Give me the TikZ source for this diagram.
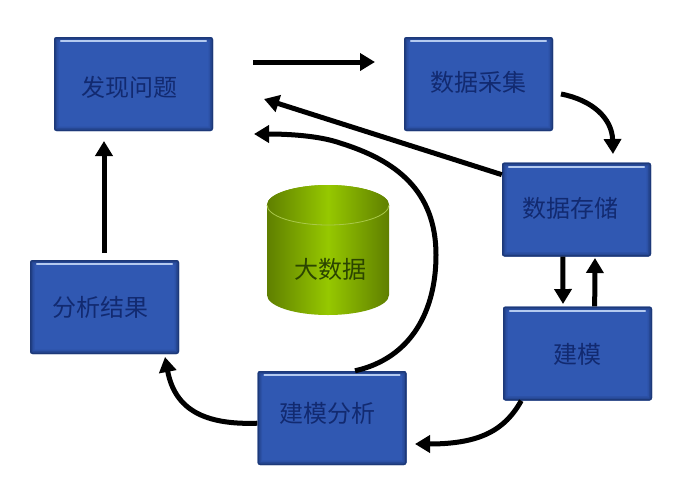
\documentclass[tikz,border=0pt]{standalone}
\usepackage{fontspec}
\setmainfont{Noto Sans CJK SC}
\usetikzlibrary{arrows.meta,calc}
\definecolor{boxblue}{HTML}{3058B2}
\definecolor{boxedge}{HTML}{1B3570}
\definecolor{boxlight}{HTML}{B4CAF0}
\definecolor{boxtext}{HTML}{122A70}
\definecolor{cyldark}{HTML}{5F7F00}
\definecolor{cylmid}{HTML}{96C800}
\definecolor{cyltext}{HTML}{2B4500}
\definecolor{cylrim}{HTML}{A9C84A}
\newcommand{\boxlabel}[3]{\raisebox{#2}[0pt][0pt]{\hspace*{#1}#3\hspace*{-#1}}}
\tikzset{
  bluebox/.style={minimum width=149pt,minimum height=94pt,inner sep=0pt,
    rounded corners=2.5pt,fill=boxblue,text=boxtext,font=\fontsize{24}{26}\selectfont,
    path picture={
      \draw[boxedge,line width=9pt,opacity=.18] (path picture bounding box.south west) rectangle (path picture bounding box.north east);
      \draw[boxedge,line width=6pt,opacity=.3] (path picture bounding box.south west) rectangle (path picture bounding box.north east);
      \draw[boxedge,line width=3pt,opacity=.75] (path picture bounding box.south west) rectangle (path picture bounding box.north east);
      \draw[boxlight,line width=2.2pt,line cap=round] ($(path picture bounding box.north west)+(7,4.2)$) -- ($(path picture bounding box.north east)+(-7,4.2)$);
    }},
  flow/.style={line width=5pt,-{Triangle[width=17pt,length=15pt]},black},
  cyllabel/.style={text=cyltext,font=\fontsize{24}{26}\selectfont,inner sep=0pt},
}
\begin{document}
\begin{tikzpicture}[x=1pt,y=-1pt]
\useasboundingbox (0,0) rectangle (683,490);
\fill[white] (0,0) rectangle (683,490);
% cylinder
\path[left color=cyldark,right color=cyldark,middle color=cylmid]
  (267,205) -- (267,295) arc[start angle=180,end angle=360,x radius=61,y radius=-20] -- (389,205) arc[start angle=0,end angle=180,x radius=61,y radius=-20] -- cycle;
\path[left color=cyldark,right color=cyldark,middle color=cylmid]
  (328,205) ellipse[x radius=61,y radius=20];
\draw[cylrim,line width=.8pt] (267,205) arc[start angle=180,end angle=360,x radius=61,y radius=-20];
\node[cyllabel] (big) at (330,269) {大数据};
% boxes
\node[bluebox,minimum width=159pt] (find) at (133.5,84) {\boxlabel{-4.5pt}{-12pt}{发现问题}};
\node[bluebox] (collect) at (478.5,84) {\boxlabel{-0.5pt}{-7pt}{数据采集}};
\node[bluebox] (store) at (576.5,209.5) {\boxlabel{-6pt}{-7.5pt}{数据存储}};
\node[bluebox] (model) at (577.5,353.5) {\boxlabel{0pt}{-9.5pt}{建模}};
\node[bluebox] (analysis) at (332,418) {\boxlabel{-5pt}{-4pt}{建模分析}};
\node[bluebox] (result) at (104.5,307) {\boxlabel{-4.5pt}{-9pt}{分析结果}};
% free ends
\coordinate (a1) at (253,62);
\coordinate (a2) at (375,62);
\coordinate (b1) at (561,94);
\coordinate (b2) at (613,154);
\coordinate (c2) at (264,99);
\coordinate (d2) at (254,134);
\coordinate (e1) at (563,304);
\coordinate (e2) at (595,258);
\coordinate (f2) at (415,444);
\coordinate (g2) at (165,357);
\coordinate (h1) at (104,253);
\coordinate (h2) at (104,141);
% connectors
\draw[flow] (a1) -- (a2);
\draw[flow] (b1) .. controls (592,100) and (612,118) .. (b2);
\draw[flow] (store.155) -- (c2);
\draw[flow] (analysis.64) .. controls (412,358) and (436,310) .. (436,255)
  .. controls (436,190) and (395,160) .. (340,143) .. controls (320,136) and (290,134) .. (d2);
\draw[flow] (store.254) -- (e1);
\draw[flow] (model.70) -- (e2);
\draw[flow] (model.220) .. controls (505,430) and (480,444) .. (f2);
\draw[flow] (analysis.184) .. controls (205,425) and (175,410) .. (g2);
\draw[flow] (h1) -- (h2);
\end{tikzpicture}
\end{document}
